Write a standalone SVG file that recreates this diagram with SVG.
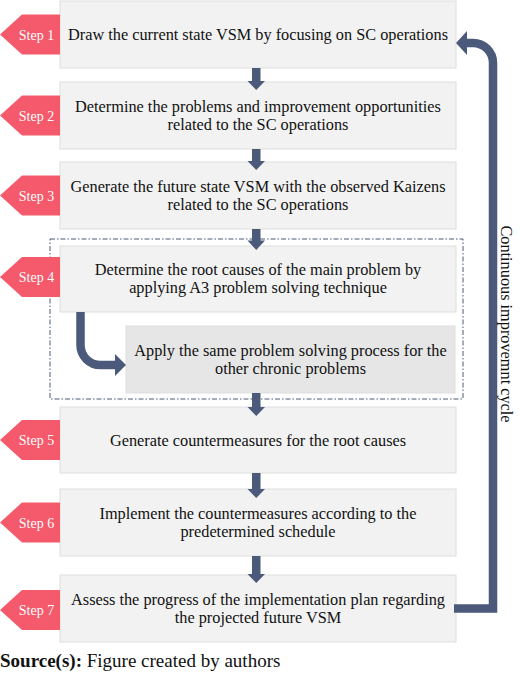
<svg xmlns="http://www.w3.org/2000/svg" width="520" height="674" viewBox="0 0 520 674">
<style>
.box{fill:#f2f2f2;stroke:#dedede;stroke-width:1}
.sub{fill:#e6e6e6;stroke:#dedede;stroke-width:1}
.tag{fill:#f45a6b}
.tt{font-family:'Liberation Serif',Tinos,'DejaVu Serif',serif;font-size:14px;fill:#ffffff;text-anchor:middle}
.t{font-family:'Liberation Serif',Tinos,'DejaVu Serif',serif;font-size:16.3px;fill:#111111;text-anchor:middle}
.src{font-family:'Liberation Serif',Tinos,'DejaVu Serif',serif;font-size:19px;fill:#111111}
.ar{fill:#4b5a7b}
.ln{fill:none;stroke:#4b5a7b;stroke-width:8.5}
</style>
<rect width="520" height="674" fill="#ffffff"/>
<rect id="group-step4" x="50" y="239" width="413" height="160" fill="none" stroke="#4b5a7b" stroke-width="1" stroke-dasharray="5 2 1.5 2"/>
<g id="step1">
<rect class="box" x="60" y="1" width="396" height="67"/>
<polygon class="tag" points="60,14.5 22,14.5 0,34.5 22,54.5 60,54.5"/>
<text class="tt" x="36.5" y="39.5">Step 1</text>
<text class="t" x="258" y="40">Draw the current state VSM by focusing on SC operations</text>
</g>
<g id="step2">
<rect class="box" x="60" y="82" width="396" height="67"/>
<polygon class="tag" points="60,95.5 22,95.5 0,115.5 22,135.5 60,135.5"/>
<text class="tt" x="36.5" y="120.5">Step 2</text>
<text class="t" x="258" y="111.5">Determine the problems and improvement opportunities</text>
<text class="t" x="258" y="129.5">related to the SC operations</text>
</g>
<g id="step3">
<rect class="box" x="60" y="162" width="396" height="67"/>
<polygon class="tag" points="60,175.5 22,175.5 0,195.5 22,215.5 60,215.5"/>
<text class="tt" x="36.5" y="200.5">Step 3</text>
<text class="t" x="258" y="191.5">Generate the future state VSM with the observed Kaizens</text>
<text class="t" x="258" y="209.5">related to the SC operations</text>
</g>
<g id="step4">
<rect class="box" x="60" y="246" width="396" height="66"/>
<polygon class="tag" points="60,257 22,257 0,277 22,297 60,297"/>
<text class="tt" x="36.5" y="282">Step 4</text>
<text class="t" x="258" y="275">Determine the root causes of the main problem by</text>
<text class="t" x="258" y="293">applying A3 problem solving technique</text>
</g>
<g id="step4-sub">
<rect class="sub" x="126" y="326" width="329" height="67"/>
<text class="t" x="290.5" y="355.5">Apply the same problem solving process for the</text>
<text class="t" x="290.5" y="373.5">other chronic problems</text>
</g>
<g id="step5">
<rect class="box" x="60" y="407" width="396" height="66"/>
<polygon class="tag" points="60,420 22,420 0,440 22,460 60,460"/>
<text class="tt" x="36.5" y="445">Step 5</text>
<text class="t" x="258" y="445.5">Generate countermeasures for the root causes</text>
</g>
<g id="step6">
<rect class="box" x="60" y="489" width="396" height="67"/>
<polygon class="tag" points="60,502.5 22,502.5 0,522.5 22,542.5 60,542.5"/>
<text class="tt" x="36.5" y="527.5">Step 6</text>
<text class="t" x="258" y="518.5">Implement the countermeasures according to the</text>
<text class="t" x="258" y="536.5">predetermined schedule</text>
</g>
<g id="step7">
<rect class="box" x="60" y="575" width="396" height="67"/>
<polygon class="tag" points="60,590 22,590 0,610 22,630 60,630"/>
<text class="tt" x="36.5" y="615">Step 7</text>
<text class="t" x="258" y="604.5">Assess the progress of the implementation plan regarding</text>
<text class="t" x="258" y="622.5">the projected future VSM</text>
</g>
<g id="connectors">
<rect class="ar" x="252" y="68" width="8.5" height="13.5"/>
<polygon class="ar" points="247.5,81 265,81 256.25,90"/>
<rect class="ar" x="252" y="149" width="8.5" height="12.5"/>
<polygon class="ar" points="247.5,161 265,161 256.25,170"/>
<rect class="ar" x="252" y="229" width="8.5" height="12"/>
<polygon class="ar" points="247.5,240.5 265,240.5 256.25,250"/>
<rect class="ar" x="252" y="393" width="8.5" height="14.5"/>
<polygon class="ar" points="247.5,407 265,407 256.25,416"/>
<rect class="ar" x="252" y="473" width="8.5" height="16.5"/>
<polygon class="ar" points="247.5,489 265,489 256.25,498"/>
<rect class="ar" x="252" y="556" width="8.5" height="18.5"/>
<polygon class="ar" points="247.5,574 265,574 256.25,583"/>
<path class="ln" d="M80.5,312 V345 A20,20 0 0 0 100.5,365 H115.5"/>
<polygon class="ar" points="115,354 126,365 115,376"/>
<path class="ln" d="M454,608.5 H493 V63 A20,20 0 0 0 473,43 H466" stroke-linejoin="miter"/>
<polygon class="ar" points="467,31 456,43 467,55"/>
</g>
<text class="t" transform="translate(501,324) rotate(90)">Continuous improvemnt cycle</text>
<text class="src" x="0" y="667"><tspan font-weight="bold">Source(s):</tspan> Figure created by authors</text>
</svg>
